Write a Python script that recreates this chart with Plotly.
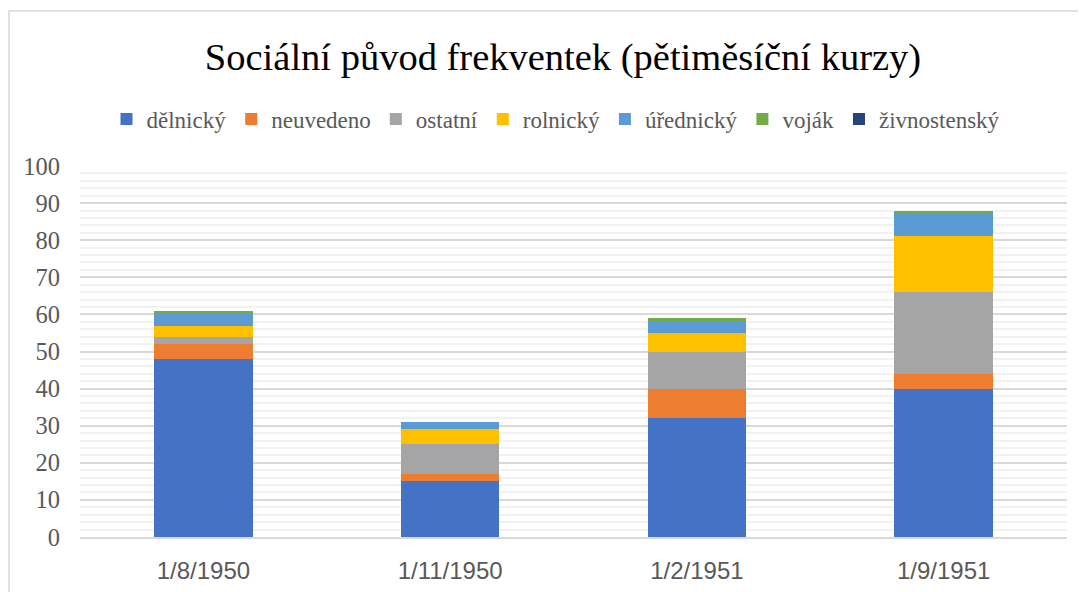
import plotly.graph_objects as go

categories = ["1/8/1950", "1/11/1950", "1/2/1951", "1/9/1951"]
delnicky = [48, 15, 32, 40]
neuvedeno = [4, 2, 8, 4]
ostatni = [2, 8, 10, 22]
rolnicky = [3, 4, 5, 15]
urednicky = [3, 2, 3, 6]
vojak = [1, 0, 1, 1]
zivnostensky = [0, 0, 0, 0]

series = [
    ("dělnický", delnicky, "#4472C4"),
    ("neuvedeno", neuvedeno, "#ED7D31"),
    ("ostatní", ostatni, "#A5A5A5"),
    ("rolnický", rolnicky, "#FFC000"),
    ("úřednický", urednicky, "#5B9BD5"),
    ("voják", vojak, "#70AD47"),
    ("živnostenský", zivnostensky, "#264478"),
]

fig = go.Figure()
for name, vals, col in series:
    fig.add_trace(go.Bar(name=name, x=categories, y=vals, marker_color=col,
                         marker_line_width=0))

# page body has an 8px margin; work in screen pixels and convert
OFF = 8
W, H = 1078, 584
L, R, T, B = 72, 19, 158, 55
pw, ph = W - L - R, H - T - B

def px(x):
    return (x - OFF - L) / pw

def py(y):
    return (H - B - (y - OFF)) / ph

fig.update_layout(
    width=W, height=H,
    barmode="stack", bargap=0.6,
    margin=dict(l=L, r=R, t=T, b=B, autoexpand=False),
    paper_bgcolor="white", plot_bgcolor="white",
    title=dict(text="Sociální původ frekventek (pětiměsíční kurzy)",
               font=dict(family="Liberation Serif", size=38.5, color="#000000"),
               x=px(563), xref="paper", xanchor="center",
               y=1 - (57 - OFF) / H, yanchor="middle"),
    legend=dict(orientation="h", x=px(556), xanchor="center", y=py(119), yanchor="middle",
                font=dict(family="Liberation Serif", size=23, color="#595959"),
                traceorder="normal", itemwidth=30, tracegroupgap=0),
    xaxis=dict(tickfont=dict(family="Liberation Sans", size=24, color="#595959"),
               showgrid=False, showline=True, linecolor="#D9D9D9", linewidth=1.5,
               ticks="", ticklabelstandoff=11, automargin=False),
    yaxis=dict(range=[0, 100], dtick=10,
               tickfont=dict(family="Liberation Serif", size=24.5, color="#595959"),
               showgrid=True, gridcolor="#D9D9D9", gridwidth=1.5,
               minor=dict(dtick=2, showgrid=True, gridcolor="#F2F2F2", gridwidth=1.5),
               zeroline=False, showline=False, ticks="", ticklabelstandoff=19,
               automargin=False),
    shapes=[dict(type="rect", xref="paper", yref="paper",
                 x0=px(9), x1=px(1100), y0=py(11), y1=py(610),
                 line=dict(color="#D9D9D9", width=1.5), fillcolor="rgba(0,0,0,0)",
                 layer="below")],
)

fig.write_html("out.html")
